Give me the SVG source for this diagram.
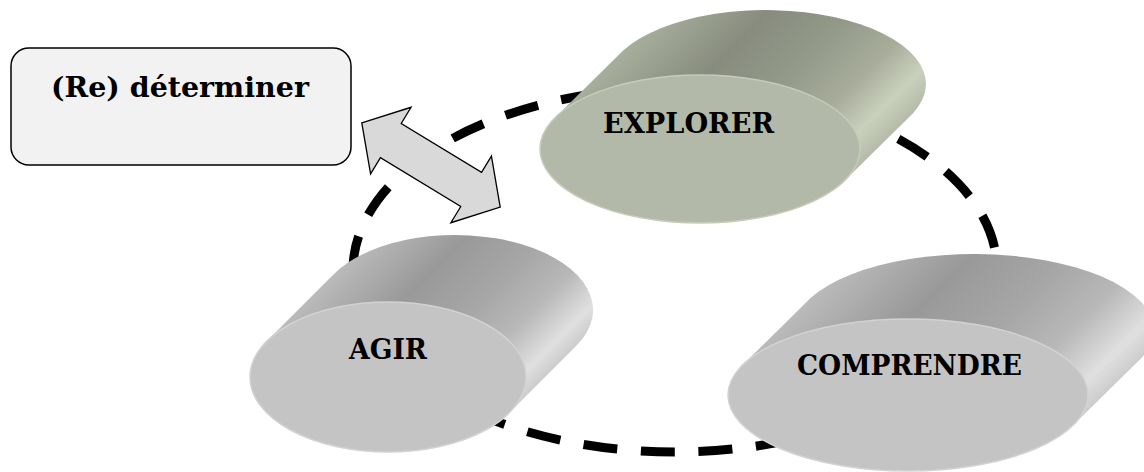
<svg xmlns="http://www.w3.org/2000/svg" width="1144" height="472" viewBox="0 0 1144 472">
<style>
.lbl{font-family:"DejaVu Serif","Liberation Serif",serif;font-weight:bold;font-size:27px;fill:#000;text-anchor:middle}
.cycle{fill:none;stroke:#000;stroke-width:9;stroke-dasharray:34 23.65}
.box{fill:#f2f2f2;stroke:#000;stroke-width:1.5}
.arrow{fill:#d9d9d9;stroke:#000;stroke-width:1.3;stroke-linejoin:miter}
.faceG{fill:#b3b9a8;stroke:#c6ccba;stroke-width:1.5}
.faceS{fill:#c4c4c4;stroke:#d2d2d2;stroke-width:1.5}
</style>
<defs>
<linearGradient id="gExp" gradientUnits="userSpaceOnUse" x1="555.2" y1="117.6" x2="729.3" y2="294.2">
<stop offset="0" stop-color="#a8ae9c"/>
<stop offset="0.3" stop-color="#878c7e"/>
<stop offset="0.55" stop-color="#949a8a"/>
<stop offset="0.75" stop-color="#a8ad9b"/>
<stop offset="0.9" stop-color="#c9d0bc"/>
<stop offset="1" stop-color="#b5bba8"/>
</linearGradient>
<linearGradient id="gAgir" gradientUnits="userSpaceOnUse" x1="266.7" y1="341.2" x2="423.8" y2="498.3">
<stop offset="0" stop-color="#bababa"/>
<stop offset="0.3" stop-color="#999999"/>
<stop offset="0.55" stop-color="#a6a6a6"/>
<stop offset="0.75" stop-color="#b8b8b8"/>
<stop offset="0.92" stop-color="#e0e0e0"/>
<stop offset="1" stop-color="#cccccc"/>
</linearGradient>
<linearGradient id="gComp" gradientUnits="userSpaceOnUse" x1="742.6" y1="365.1" x2="935.5" y2="560.8">
<stop offset="0" stop-color="#bababa"/>
<stop offset="0.3" stop-color="#999999"/>
<stop offset="0.55" stop-color="#a6a6a6"/>
<stop offset="0.75" stop-color="#b8b8b8"/>
<stop offset="0.92" stop-color="#e0e0e0"/>
<stop offset="1" stop-color="#cccccc"/>
</linearGradient>
</defs>

<g id="connectors">
<ellipse class="cycle" cx="675" cy="270" rx="322" ry="182"/>
</g>

<g id="node-determiner">
<rect class="box" x="11" y="48" width="340" height="117" rx="18" ry="18"/>
<text class="lbl" x="180" y="97" textLength="258" lengthAdjust="spacingAndGlyphs">(Re) déterminer</text>
</g>

<g id="double-arrow">
<polygon class="arrow" transform="translate(431,165) rotate(31.3)" points="-81,0 -47,-39 -47,-20 47,-20 47,-39 81,0 47,39 47,20 -47,20 -47,39"/>
</g>

<g id="node-explorer">
<path fill="url(#gExp)" d="M844.8,180.4 L912.8,113.4 A160,74 0 0 0 623.2,50.6 L555.2,117.6 A160,74 0 0 0 844.8,180.4 Z"/>
<ellipse class="faceG" cx="700" cy="149" rx="160" ry="74"/>
<text class="lbl" x="688.5" y="133" textLength="171" lengthAdjust="spacingAndGlyphs">EXPLORER</text>
</g>

<g id="node-agir">
<path fill="url(#gAgir)" d="M509.3,412.8 L576.3,345.8 A138,75 0 0 0 333.7,274.2 L266.7,341.2 A138,75 0 0 0 509.3,412.8 Z"/>
<ellipse class="faceS" cx="388" cy="377" rx="138" ry="75"/>
<text class="lbl" x="388" y="359" textLength="78" lengthAdjust="spacingAndGlyphs">AGIR</text>
</g>

<g id="node-comprendre">
<path fill="url(#gComp)" d="M1073.4,424.9 L1141.4,357.9 A180,76 0 0 0 810.6,298.1 L742.6,365.1 A180,76 0 0 0 1073.4,424.9 Z"/>
<ellipse class="faceS" cx="908" cy="395" rx="180" ry="76"/>
<text class="lbl" x="909.5" y="375" textLength="225" lengthAdjust="spacingAndGlyphs">COMPRENDRE</text>
</g>
</svg>
